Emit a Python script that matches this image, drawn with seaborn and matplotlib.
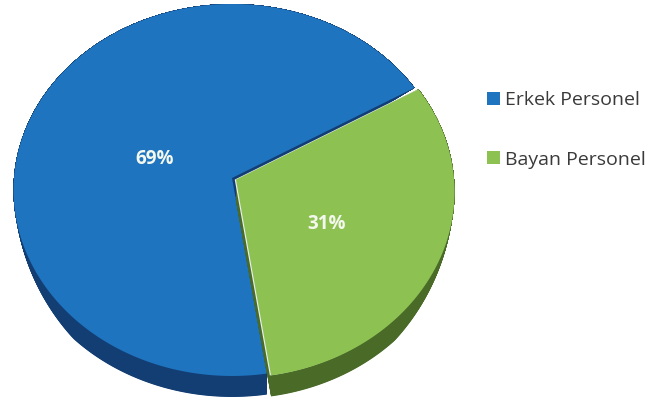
import numpy as np
import matplotlib
matplotlib.use("Agg")
import matplotlib.pyplot as plt
from matplotlib.patches import Patch
import seaborn as sns

# Staff breakdown by gender
labels = ["Erkek Personel", "Bayan Personel"]
shares = [69, 31]
top_colors = ["#1f74bf", "#8dc253"]
side_colors = ["#123e74", "#4a6b28"]

sns.set_theme(style="white")
plt.rcParams["font.family"] = ["Open Sans", "DejaVu Sans"]

W, H = 662, 404
fig = plt.figure(figsize=(W / 100, H / 100), dpi=100)
ax = fig.add_axes([0, 0, 1, 1])
ax.set_xlim(0, W)
ax.set_ylim(H, 0)
ax.axis("off")

# Perspective disc: centre, radii, foreshortening and rim thickness (pixels)
CX, CY, RX, RY, K, DEPTH = 232, 178, 218, 185.2, 0.0645, 21
START = 30.2
EXPLODE = [0.0, 0.02]


def project(u, v, dy=0.0):
    w = 1 + K * v
    return CX + RX * u / w, CY + dy - RY * v / w


def rim_drop(t):
    # visible rim height: full at the front, fading out towards the sides
    return DEPTH * np.clip((-np.sin(t) - 0.22) / 0.5, 0, 1)


def wedge_outline(a0, a1, offset, f=0.0):
    mid = np.deg2rad((a0 + a1) / 2)
    eu, ev = offset * np.cos(mid), offset * np.sin(mid)
    t = np.deg2rad(np.linspace(a0, a1, 300))
    u = np.concatenate([[eu], eu + np.cos(t), [eu]])
    v = np.concatenate([[ev], ev + np.sin(t), [ev]])
    dy = np.concatenate([[DEPTH], rim_drop(t), [DEPTH]]) * f
    return project(u, v, dy)


fracs = np.array(shares, dtype=float) / sum(shares)
bounds = START + 360 * np.concatenate([[0], np.cumsum(fracs)])

for i in range(len(shares)):
    a0, a1 = bounds[i], bounds[i + 1]
    for f in np.linspace(1, 0, 50)[:-1]:
        xs, ys = wedge_outline(a0, a1, EXPLODE[i], f)
        ax.fill(xs, ys, color=side_colors[i], lw=0)
    if i == 1:
        xs, ys = wedge_outline(a0, a1, EXPLODE[i], 0)
        ax.fill(np.array(xs) - 1.2, ys, color="#e8eef2", lw=0)
    xs, ys = wedge_outline(a0, a1, EXPLODE[i], 0)
    ax.fill(xs, ys, color=top_colors[i], lw=0)

# Percentage labels on the slices
label_pos = [(155, 159), (327, 224)]
for (x, y), s in zip(label_pos, shares):
    ax.text(x, y, f"{s}%", color="#f4f8ee", fontsize=13.5, fontweight="bold",
            ha="center", va="center")

handles = [Patch(facecolor=c, edgecolor="none") for c in top_colors]
ax.legend(handles, labels, loc="upper left",
          bbox_to_anchor=(487 / W, 1 - 91 / H), bbox_transform=fig.transFigure,
          frameon=False, handlelength=0.65, handleheight=0.65,
          handletextpad=0.3, labelspacing=2.15, labelcolor="#3a3a3a",
          borderpad=0, borderaxespad=0,
          prop={"weight": "normal", "size": 14})

fig.savefig("out.png", dpi=100, facecolor="white")
